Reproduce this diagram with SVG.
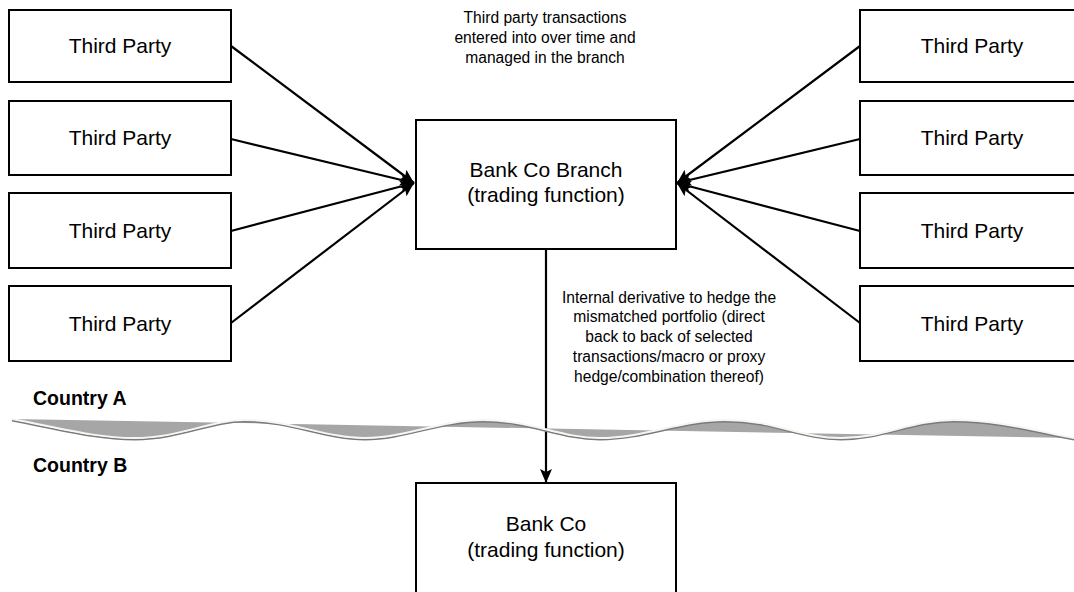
<svg xmlns="http://www.w3.org/2000/svg" width="1074" height="592" viewBox="0 0 1074 592">
<style>
.box{fill:#fff;stroke:#000;stroke-width:2}
.lbl{font-family:"Liberation Sans",Arial,sans-serif;font-size:21px;fill:#000;text-anchor:middle}
.note{font-family:"Liberation Sans",Arial,sans-serif;font-size:15.6px;fill:#000;text-anchor:middle}
.country{font-family:"Liberation Sans",Arial,sans-serif;font-size:19.5px;font-weight:bold;fill:#000}
.conn{stroke:#000;stroke-width:2.2;fill:none;marker-end:url(#arr)}
</style>
<defs>
<marker id="arr" markerUnits="userSpaceOnUse" markerWidth="16" markerHeight="14" refX="14" refY="7" orient="auto">
<path d="M0,1 L14,7 L0,13 L3,7 Z" fill="#000"/>
</marker>
</defs>
<rect width="1074" height="592" fill="#fff"/>

<g id="connectors">
<line class="conn" x1="231" y1="46" x2="414" y2="183"/>
<line class="conn" x1="231" y1="139" x2="414" y2="183"/>
<line class="conn" x1="231" y1="231" x2="414" y2="183"/>
<line class="conn" x1="231" y1="323" x2="414" y2="183"/>
<line class="conn" x1="860" y1="46" x2="677" y2="183"/>
<line class="conn" x1="860" y1="139" x2="677" y2="183"/>
<line class="conn" x1="860" y1="231" x2="677" y2="183"/>
<line class="conn" x1="860" y1="323" x2="677" y2="183"/>
<line class="conn" x1="546" y1="249" x2="546" y2="483"/>
</g>

<g id="border">
<path d="M12,419 C60,428 95,438 135,438 C180,438 210,420 245,420 C290,420 325,438 365,438 C405,438 440,420 483,420 C530,420 560,438 600,438 C645,438 680,420 725,420 C775,420 800,438 841,438 C885,438 910,420 954,420 C1000,420 1040,432 1074,438 L12,419 Z" fill="#a6a6a6"/>
<path d="M12,420.5 C60,429.5 95,439.5 135,439.5 C180,439.5 210,421.5 245,421.5 C290,421.5 325,439.5 365,439.5 C405,439.5 440,421.5 483,421.5 C530,421.5 560,439.5 600,439.5 C645,439.5 680,421.5 725,421.5 C775,421.5 800,439.5 841,439.5 C885,439.5 910,421.5 954,421.5 C1000,421.5 1040,433.5 1074,439.5" fill="none" stroke="#7a7a7a" stroke-width="1.8"/>
<path d="M12,419 C60,428 95,438 135,438 C180,438 210,420 245,420 C290,420 325,438 365,438 C405,438 440,420 483,420 C530,420 560,438 600,438 C645,438 680,420 725,420 C775,420 800,438 841,438 C885,438 910,420 954,420 C1000,420 1040,432 1074,438" fill="none" stroke="#f6f6f0" stroke-width="2"/>
</g>

<g id="tp-l1"><rect class="box" x="9" y="10" width="222" height="72"/><text class="lbl" x="120" y="53">Third Party</text></g>
<g id="tp-l2"><rect class="box" x="9" y="101" width="222" height="74"/><text class="lbl" x="120" y="145">Third Party</text></g>
<g id="tp-l3"><rect class="box" x="9" y="193" width="222" height="75"/><text class="lbl" x="120" y="238">Third Party</text></g>
<g id="tp-l4"><rect class="box" x="9" y="286" width="222" height="75"/><text class="lbl" x="120" y="331">Third Party</text></g>

<g id="tp-r1"><rect class="box" x="860" y="10" width="226" height="72"/><text class="lbl" x="972" y="53">Third Party</text></g>
<g id="tp-r2"><rect class="box" x="860" y="101" width="226" height="74"/><text class="lbl" x="972" y="145">Third Party</text></g>
<g id="tp-r3"><rect class="box" x="860" y="193" width="226" height="75"/><text class="lbl" x="972" y="238">Third Party</text></g>
<g id="tp-r4"><rect class="box" x="860" y="286" width="226" height="75"/><text class="lbl" x="972" y="331">Third Party</text></g>

<g id="branch"><rect class="box" x="416" y="120" width="260" height="129"/><text class="lbl" x="546" y="177">Bank Co Branch</text><text class="lbl" x="546" y="202">(trading function)</text></g>

<g id="bankco"><rect class="box" x="416" y="483" width="260" height="130"/><text class="lbl" x="546" y="531">Bank Co</text><text class="lbl" x="546" y="557">(trading function)</text></g>

<g id="note-top"><text class="note" x="545" y="23">Third party transactions</text><text class="note" x="545" y="43">entered into over time and</text><text class="note" x="545" y="63">managed in the branch</text></g>

<g id="note-deriv">
<text class="note" x="669" y="302.5">Internal derivative to hedge the</text>
<text class="note" x="669" y="322">mismatched portfolio (direct</text>
<text class="note" x="669" y="342">back to back of selected</text>
<text class="note" x="669" y="361.5">transactions/macro or proxy</text>
<text class="note" x="669" y="381.5">hedge/combination thereof)</text>
</g>

<g id="countries"><text class="country" x="33" y="405">Country A</text><text class="country" x="33" y="472">Country B</text></g>
</svg>
